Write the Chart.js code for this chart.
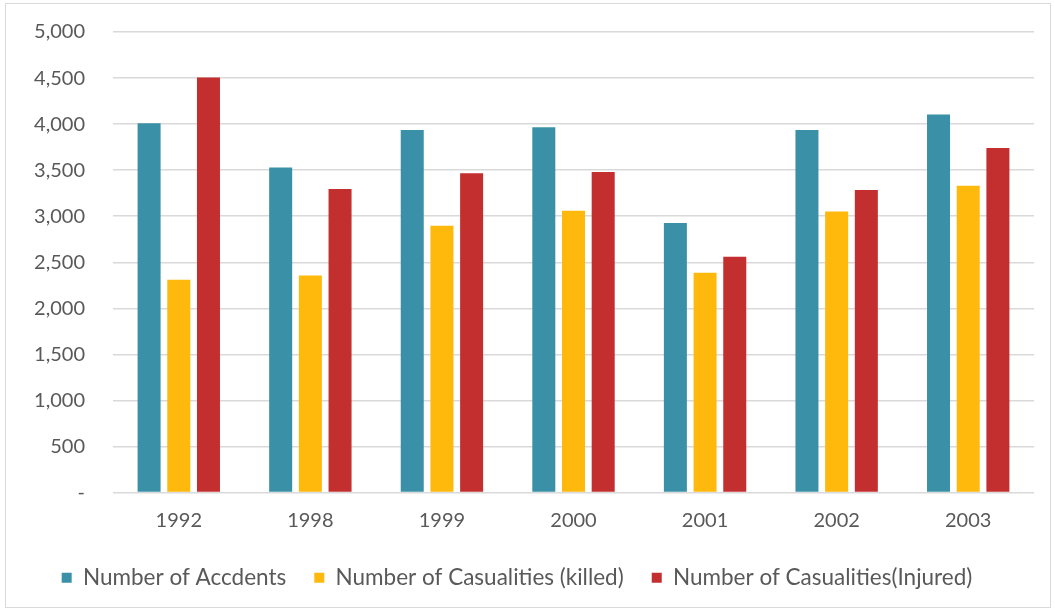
<!DOCTYPE html>
<html>
<head>
<meta charset="utf-8">
<script src="https://cdn.jsdelivr.net/npm/chart.js@4/dist/chart.umd.min.js"></script>
<style>
  html, body { margin: 0; padding: 0; background: #fff; }
  #frame {
    position: absolute; left: 5px; top: 3px;
    width: 1044px; height: 603px;
    border: 1px solid #d9d9d9;
  }
  #chart-wrapper { position: absolute; left: 0; top: 0; width: 1055px; height: 611px; }
</style>
</head>
<body>
<div id="frame"></div>
<div id="chart-wrapper"><canvas id="chart" width="1055" height="611"></canvas></div>
<script>
const years = ["1992", "1998", "1999", "2000", "2001", "2002", "2003"];
const accidents = [4010, 3530, 3935, 3965, 2925, 3935, 4105];
const killed = [2310, 2355, 2895, 3060, 2385, 3050, 3330];
const injured = [4505, 3295, 3465, 3480, 2560, 3285, 3740];
const yTicks = [0, 500, 1000, 1500, 2000, 2500, 3000, 3500, 4000, 4500, 5000];

const fontFamily = "Lato, 'Open Sans', sans-serif";
const textColor = "#595959";

const series = [
  { label: "Number of Accdents", data: accidents, color: "#3a91a7" },
  { label: "Number of Casualities (killed)", data: killed, color: "#ffb80c" },
  { label: "Number of Casualities(Injured)", data: injured, color: "#c32e2f" },
];

new Chart(document.getElementById("chart").getContext("2d"), {
  type: "bar",
  data: {
    labels: years,
    datasets: series.map((s) => ({
      label: s.label,
      data: s.data,
      backgroundColor: s.color,
      borderWidth: 0,
      categoryPercentage: 0.677,
      barPercentage: 0.775,
    })),
  },
  options: {
    responsive: false,
    animation: false,
    layout: { padding: { top: 32, right: 21, left: 0, bottom: 12 } },
    plugins: {
      tooltip: { enabled: false },
      legend: {
        position: "bottom",
        labels: {
          color: textColor,
          font: { family: fontFamily, size: 22.5 },
          boxWidth: 10,
          boxHeight: 10,
          padding: 28,
        },
      },
    },
    scales: {
      x: {
        grid: { display: false },
        border: { display: false },
        ticks: { color: textColor, font: { family: fontFamily, size: 20 }, padding: 8 },
        afterFit: (scale) => { scale.height = 46; },
      },
      y: {
        min: 0,
        max: 5000,
        afterBuildTicks: (scale) => { scale.ticks = yTicks.map((v) => ({ value: v })); },
        grid: { color: "#d9d9d9", lineWidth: 1.5, drawTicks: false },
        border: { display: false },
        ticks: {
          color: textColor,
          font: { family: fontFamily, size: 20 },
          padding: 28,
          callback: (v) => (v === 0 ? "-" : v.toLocaleString("en-US")),
        },
        afterFit: (scale) => {
          scale.width = 113;
          scale.paddingTop = 0;
          scale.paddingBottom = 0;
        },
      },
    },
  },
});
</script>
</body>
</html>
